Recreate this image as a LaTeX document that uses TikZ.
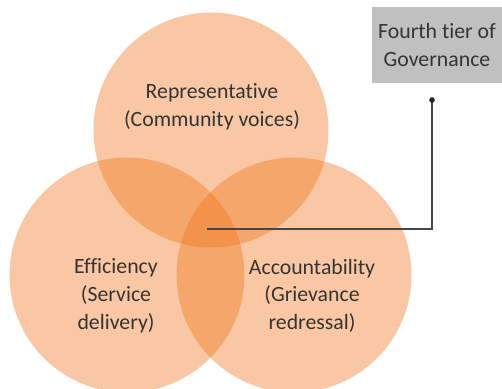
\documentclass[tikz,border=0pt]{standalone}
\usepackage{xcolor}
\usepackage{fontspec}
\usepackage{tikz}
\setmainfont[Ligatures=NoCommon]{Carlito}
\usetikzlibrary{calc}
\definecolor{petal}{RGB}{240,116,24}
\definecolor{tiergray}{RGB}{192,192,192}
\definecolor{inkgray}{RGB}{52,52,52}
\definecolor{leadgray}{RGB}{70,70,70}
\tikzstyle{every node}=[font=\fontsize{15.5}{19.8}\selectfont, text=inkgray]
\tikzstyle{petalring}=[circle, inner sep=0pt, minimum size=5.875cm, fill=petal, fill opacity=.4]

\begin{document}
\begin{tikzpicture}
                \useasboundingbox (0cm, 0cm) rectangle (12.55cm, 9.725cm);

                % the three overlapping circles
                \node[petalring] (represent) at (5.275cm, 6.475cm) {};
                \node[petalring] (efficient) at (3.175cm, 2.85cm) {};
                \node[petalring] (account) at (7.35cm, 2.85cm) {};

                \node[align=center] (representtxt) at (5.3cm, 7.06cm) {Representative\\(Community voices)};
                \node[align=center] (efficienttxt) at (2.9cm, 2.33cm) {Efficiency\\(Service\\delivery)};
                \node[align=center] (accounttxt) at (7.8cm, 2.33cm) {Accountability\\(Grievance\\redressal)};

                % grey box and its leader
                \node[fill=tiergray, minimum width=3.25cm, minimum height=1.9cm, align=center] (tier) at (10.925cm, 8.6cm) {Fourth tier of\\Governance};
                \coordinate (tip) at (10.8cm, 7.225cm);
                \coordinate (hub) at (5.175cm, 4.0cm);
                \draw[leadgray, line width=.9pt] (tip) |- (hub);
                \fill[black!85] (tip) circle (2pt);
            \end{tikzpicture}
\end{document}
